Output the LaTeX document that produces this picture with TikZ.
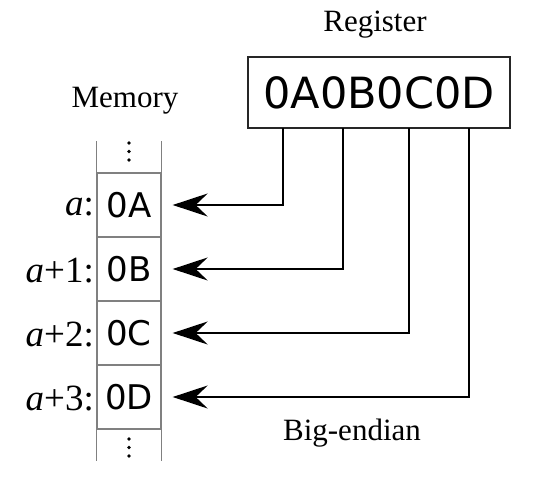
\documentclass[tikz,border=0pt]{standalone}
\usepackage{fontspec}
\setmainfont{Liberation Serif}
\newfontfamily\hexfont{DejaVu Sans}
\usetikzlibrary{arrows.meta}

\begin{document}
\begin{tikzpicture}[
    x=1pt, y=-1pt,
    cell/.style={rectangle, draw=gray, line width=1.3pt, minimum width=64pt, minimum height=64pt, inner sep=0pt, font=\hexfont\fontsize{34}{40}\selectfont},
    addr/.style={anchor=east, inner sep=0pt, font=\fontsize{37}{44}\selectfont},
    caption/.style={font=\fontsize{31}{37}\selectfont},
    dot/.style={circle, fill=black, inner sep=0pt, minimum size=3.6pt},
    arrow/.style={-{Stealth[length=35pt, width=23pt, inset=12pt]}, line width=1.8pt, shorten >=11pt}
]
    \useasboundingbox (0,0) rectangle (554,482);

    % Titles
    \node[caption] (regtitle) at (375,25) {Register};
    \node[caption] (memtitle) at (125,101) {Memory};
    \node[caption] (endian) at (352,433) {Big-endian};

    % Register holding the word
    \node[draw=black!85, line width=1.5pt, minimum width=262pt, minimum height=71pt, font=\hexfont\fontsize{43}{50}\selectfont] (reg) at (379,92.5) {0A0B0C0D};

    % Memory cells
    \node[cell] (m0) at (129,205) {0A};
    \node[cell] (m1) at (129,269) {0B};
    \node[cell] (m2) at (129,333) {0C};
    \node[cell] (m3) at (129,397) {0D};

    % Open ends of the column
    \draw[gray, line width=1.3pt] (m0.north west) -- ++(0,-31);
    \draw[gray, line width=1.3pt] (m0.north east) -- ++(0,-31);
    \draw[gray, line width=1.3pt] (m3.south west) -- ++(0,31);
    \draw[gray, line width=1.3pt] (m3.south east) -- ++(0,31);
    \foreach \y in {143,151.5,160} \node[dot] at (129,\y) {};
    \foreach \y in {439,447.5,456} \node[dot] at (129,\y) {};

    % Addresses
    \node[addr] (a0) at (94,207) {\textit{a}:};
    \node[addr] (a1) at (94,271) {\textit{a}+1:};
    \node[addr] (a2) at (94,335) {\textit{a}+2:};
    \node[addr] (a3) at (94,399) {\textit{a}+3:};

    % Byte taps on the register
    \coordinate (t0) at (283,128);
    \coordinate (t1) at (343,128);
    \coordinate (t2) at (409,128);
    \coordinate (t3) at (469,128);

    % Arrows to memory
    \draw[arrow] (t0) |- (m0.east);
    \draw[arrow] (t1) |- (m1.east);
    \draw[arrow] (t2) |- (m2.east);
    \draw[arrow] (t3) |- (m3.east);
\end{tikzpicture}
\end{document}
